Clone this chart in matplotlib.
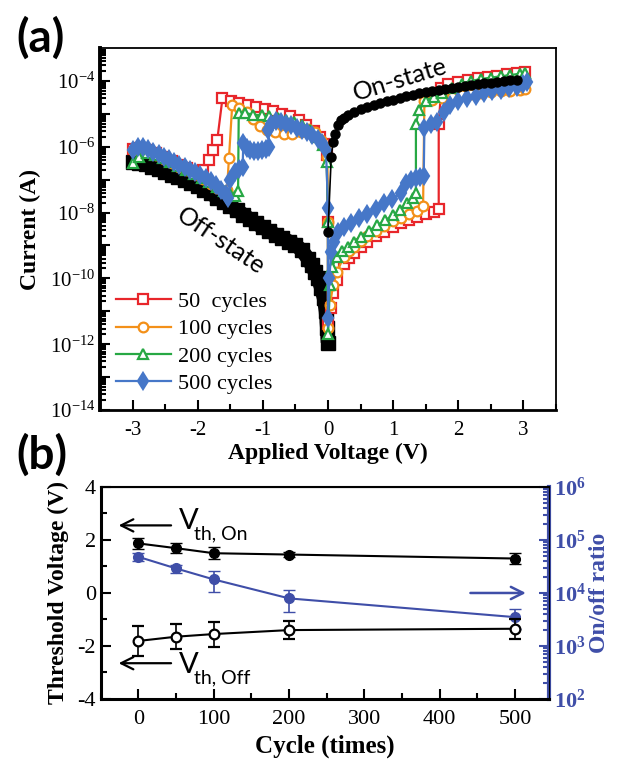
import numpy as np
import matplotlib.pyplot as plt
from matplotlib.ticker import FixedLocator, FuncFormatter, LogLocator, MultipleLocator, NullFormatter

plt.rcParams['font.family'] = 'Liberation Serif'
plt.rcParams['mathtext.fontset'] = 'custom'
plt.rcParams['mathtext.rm'] = 'Liberation Serif'
plt.rcParams['mathtext.it'] = 'Liberation Serif:italic'
plt.rcParams['mathtext.bf'] = 'Liberation Serif:bold'
plt.rcParams['axes.unicode_minus'] = False

# ------------------------------------------------------------
# (a) I-V sweeps, (V, log10 I)
# ------------------------------------------------------------
off_state = [(-3.0, -6.45), (-2.9, -6.48), (-2.8, -6.53), (-2.7, -6.6), (-2.6, -6.68),
             (-2.5, -6.76), (-2.4, -6.85), (-2.3, -6.93), (-2.2, -7.02), (-2.1, -7.1),
             (-2.0, -7.2), (-1.9, -7.3), (-1.8, -7.42), (-1.7, -7.55), (-1.6, -7.68),
             (-1.5, -7.8), (-1.4, -7.93), (-1.3, -8.06), (-1.2, -8.2), (-1.1, -8.33),
             (-1.0, -8.45), (-0.9, -8.57), (-0.8, -8.68), (-0.7, -8.78), (-0.6, -8.88),
             (-0.5, -8.98), (-0.4, -9.15), (-0.3, -9.42), (-0.25, -9.6), (-0.2, -9.8),
             (-0.15, -10.0), (-0.1, -10.3), (-0.06, -10.6), (-0.03, -11.0), (-0.01, -11.5),
             (0.0, -11.95)]

on_state = [(0.0, -8.6), (0.05, -6.3), (0.08, -5.85), (0.11, -5.6), (0.15, -5.35),
            (0.2, -5.2), (0.25, -5.12), (0.3, -5.05), (0.4, -4.95), (0.5, -4.85),
            (0.6, -4.78), (0.7, -4.72), (0.8, -4.67), (0.9, -4.62), (1.0, -4.57),
            (1.1, -4.52), (1.2, -4.47), (1.3, -4.42), (1.4, -4.38), (1.5, -4.34),
            (1.6, -4.3), (1.7, -4.27), (1.8, -4.24), (1.9, -4.21), (2.0, -4.18),
            (2.1, -4.15), (2.2, -4.12), (2.3, -4.1), (2.4, -4.07), (2.5, -4.05),
            (2.6, -4.03), (2.7, -4.0), (2.8, -3.98), (2.9, -3.96)]

cycles_50 = [(-3.0, -6.06), (-2.88, -6.04), (-2.76, -6.1), (-2.64, -6.2), (-2.52, -6.3),
             (-2.4, -6.42), (-2.28, -6.54), (-2.16, -6.66), (-2.04, -6.78), (-1.96, -6.86),
             (-1.92, -6.71), (-1.83, -6.4), (-1.76, -6.1), (-1.7, -5.8), (-1.62, -4.53),
             (-1.49, -4.62), (-1.36, -4.68), (-1.23, -4.74), (-1.1, -4.8), (-0.97, -4.86),
             (-0.84, -4.92), (-0.71, -4.99), (-0.58, -5.07), (-0.45, -5.18), (-0.33, -5.35),
             (-0.22, -5.52), (-0.13, -5.7), (-0.06, -5.92), (-0.02, -6.25), (0.0, -8.3),
             (0.0, -11.4), (0.04, -10.9), (0.08, -10.45), (0.14, -10.05), (0.24, -9.55),
             (0.32, -9.38), (0.4, -9.24), (0.5, -9.05), (0.6, -8.89), (0.73, -8.72),
             (0.86, -8.58), (1.0, -8.45), (1.12, -8.33), (1.25, -8.22), (1.37, -8.13),
             (1.5, -8.05), (1.62, -7.98), (1.7, -7.9), (1.7, -5.3), (1.74, -4.2),
             (1.85, -4.1), (2.0, -4.03), (2.15, -3.97), (2.3, -3.92), (2.45, -3.88),
             (2.6, -3.84), (2.75, -3.8), (2.9, -3.76), (3.02, -3.72)]

cycles_100 = [(-3.0, -6.1), (-2.88, -6.05), (-2.76, -6.12), (-2.64, -6.24), (-2.52, -6.36),
              (-2.4, -6.48), (-2.28, -6.6), (-2.16, -6.72), (-2.04, -6.84), (-1.92, -6.98),
              (-1.8, -7.12), (-1.7, -7.25), (-1.6, -7.4), (-1.55, -7.3), (-1.52, -6.34),
              (-1.47, -4.73), (-1.36, -4.83), (-1.25, -4.95), (-1.15, -5.15), (-1.05, -5.38),
              (-0.93, -5.5), (-0.81, -5.55), (-0.68, -5.6), (-0.55, -5.6), (-0.42, -5.55),
              (-0.3, -5.45), (-0.2, -5.55), (-0.11, -5.78), (-0.05, -6.0), (-0.01, -6.3),
              (0.0, -8.3), (0.0, -11.5), (0.03, -10.8), (0.08, -10.2), (0.14, -9.8),
              (0.24, -9.35), (0.32, -9.18), (0.4, -9.05), (0.5, -8.87), (0.6, -8.7),
              (0.73, -8.55), (0.86, -8.4), (1.0, -8.27), (1.12, -8.15), (1.25, -8.05),
              (1.37, -7.95), (1.46, -7.8), (1.48, -4.62), (1.6, -4.58), (1.75, -4.53),
              (1.9, -4.48), (2.05, -4.44), (2.2, -4.4), (2.35, -4.37), (2.5, -4.34),
              (2.65, -4.32), (2.8, -4.3), (2.95, -4.28), (3.03, -4.25)]

cycles_200 = [(-3.0, -6.5), (-2.9, -6.3), (-2.78, -6.2), (-2.66, -6.25), (-2.54, -6.35),
              (-2.42, -6.47), (-2.3, -6.58), (-2.18, -6.7), (-2.06, -6.82), (-1.94, -6.95),
              (-1.82, -7.08), (-1.7, -7.22), (-1.6, -7.35), (-1.5, -7.45), (-1.42, -7.5),
              (-1.38, -7.35), (-1.37, -4.98), (-1.27, -4.98), (-1.15, -5.02), (-1.02, -5.05),
              (-0.9, -5.08), (-0.77, -5.12), (-0.65, -5.18), (-0.52, -5.25), (-0.4, -5.35),
              (-0.28, -5.5), (-0.17, -5.7), (-0.08, -5.95), (-0.02, -6.45), (0.0, -8.3),
              (0.0, -11.7), (0.03, -10.2), (0.06, -9.65), (0.14, -9.34), (0.22, -9.18),
              (0.3, -9.04), (0.4, -8.88), (0.5, -8.73), (0.63, -8.55), (0.76, -8.38),
              (0.88, -8.23), (1.0, -8.08), (1.1, -7.93), (1.22, -7.72), (1.3, -7.55),
              (1.35, -7.42), (1.35, -5.3), (1.4, -4.88), (1.5, -4.6), (1.62, -4.48),
              (1.75, -4.38), (1.9, -4.22), (2.05, -4.08), (2.2, -4.0), (2.35, -3.94),
              (2.5, -3.9), (2.65, -3.86), (2.8, -3.82), (2.95, -3.78), (3.03, -3.76)]

cycles_500 = [(-3.0, -6.1), (-2.92, -6.02), (-2.84, -6.02), (-2.76, -6.08), (-2.68, -6.15),
              (-2.6, -6.23), (-2.52, -6.3), (-2.44, -6.38), (-2.36, -6.46), (-2.28, -6.54),
              (-2.2, -6.62), (-2.12, -6.7), (-2.04, -6.78), (-1.96, -6.86), (-1.88, -6.95),
              (-1.8, -7.05), (-1.72, -7.17), (-1.64, -7.3), (-1.57, -7.45), (-1.53, -7.55),
              (-1.5, -7.0), (-1.43, -6.78), (-1.36, -6.68), (-1.31, -6.6), (-1.3, -5.9),
              (-1.25, -6.05), (-1.19, -6.1), (-1.13, -6.12), (-1.07, -6.12), (-1.01, -6.1),
              (-0.95, -6.06), (-0.9, -6.0), (-0.92, -5.5), (-0.88, -5.3), (-0.8, -5.22),
              (-0.72, -5.25), (-0.64, -5.3), (-0.56, -5.35), (-0.48, -5.42), (-0.4, -5.48),
              (-0.32, -5.55), (-0.24, -5.65), (-0.16, -5.76), (-0.09, -5.9), (-0.03, -6.1),
              (0.0, -7.86), (0.0, -11.2), (0.02, -10.0), (0.05, -9.2), (0.09, -8.89),
              (0.16, -8.6), (0.25, -8.45), (0.35, -8.33), (0.47, -8.18), (0.6, -8.03),
              (0.73, -7.88), (0.86, -7.72), (0.99, -7.58), (1.12, -7.42), (1.2, -7.1),
              (1.27, -7.0), (1.35, -6.95), (1.42, -6.92), (1.47, -6.9), (1.48, -5.43),
              (1.58, -5.3), (1.68, -5.24), (1.78, -4.95), (1.88, -4.73), (2.0, -4.62),
              (2.14, -4.53), (2.27, -4.45), (2.4, -4.37), (2.52, -4.32), (2.65, -4.28),
              (2.78, -4.22), (2.9, -4.17), (3.0, -4.1), (3.05, -4.03)]

sweep_labels = ['50  cycles', '100 cycles', '200 cycles', '500 cycles']

# ------------------------------------------------------------
# (b) threshold voltages and on/off ratio vs cycle
# ------------------------------------------------------------
cycles = [0, 50, 100, 200, 500]
vth_on = [1.87, 1.69, 1.50, 1.45, 1.30]
vth_on_err = [0.22, 0.20, 0.22, 0.10, 0.20]
vth_off = [-1.81, -1.65, -1.55, -1.40, -1.35]
vth_off_err = [0.57, 0.48, 0.47, 0.33, 0.38]
on_off_ratio = [4.8e4, 2.9e4, 1.8e4, 7.9e3, 3.5e3]
on_off_ratio_err = [8e3, 5e3, 7.5e3, 3.5e3, 1.4e3]

BLUE = '#3f4ea8'
SANS = 'Lato'


def xy(points):
    arr = np.array(points)
    return arr[:, 0], 10 ** arr[:, 1]


fig = plt.figure(figsize=(6.3, 7.71), dpi=100)

# ---------------------------- (a) ----------------------------
ax1 = fig.add_axes([0.1587, 0.4682, 0.7238, 0.4695])
ax1.set_yscale('log')

# off-state: a dense run of squares, drawn as a thick band
v, i = xy(off_state)
ax1.plot(v, i, '-', color='black', lw=10.5, zorder=2, solid_capstyle='butt')
ax1.plot(v, i, 's', color='black', ms=10, zorder=2)

styles = [
    (cycles_50, '#e8262b', 's', 'white', 6.5),
    (cycles_100, '#f39019', 'o', 'white', 7),
    (cycles_200, '#27a844', '^', 'white', 7.5),
    (cycles_500, '#4677c8', 'd', '#4677c8', 8),
]
for k, (pts, col, mk, face, ms) in enumerate(styles):
    v, i = xy(pts)
    ax1.plot(v, i, '-', color=col, marker=mk, mfc=face, mec=col, ms=ms, mew=1.6,
             lw=1.6, zorder=3 + k, label=sweep_labels[k])

v, i = xy(on_state)
ax1.plot(v, i, '-', color='black', marker='o', ms=6.5, lw=1.2, zorder=8)

ax1.set_xlim(-3.5, 3.5)
ax1.set_ylim(1e-14, 1e-3)
ax1.xaxis.set_major_locator(MultipleLocator(1))
ax1.xaxis.set_minor_locator(MultipleLocator(0.5))
ax1.yaxis.set_major_locator(FixedLocator([10.0 ** e for e in range(-14, -3)]))
ax1.yaxis.set_major_formatter(FuncFormatter(
    lambda y, pos: r'$10^{%d}$' % round(np.log10(y)) if round(np.log10(y)) % 2 == 0 else ''))
ax1.yaxis.set_minor_locator(LogLocator(base=10, subs=np.arange(2, 10), numticks=30))
ax1.yaxis.set_minor_formatter(NullFormatter())
ax1.tick_params(which='both', direction='in', top=False, right=False, labelsize=15, width=1.5)
ax1.tick_params(which='major', length=7)
ax1.tick_params(which='minor', length=4)
ax1.tick_params(axis='x', pad=8)
for side, lw in (('left', 2.8), ('bottom', 2.0), ('top', 1.3), ('right', 1.3)):
    ax1.spines[side].set_linewidth(lw)

ax1.set_xlabel('Applied Voltage (V)', fontsize=17, fontweight='bold', labelpad=2)
ax1.set_ylabel('Current (A)', fontsize=17, fontweight='bold', labelpad=6)

ax1.legend(loc='upper left', bbox_to_anchor=(0.0, 0.37), frameon=False, fontsize=16,
           handlelength=2.5, handletextpad=0.3, labelspacing=0.3, borderaxespad=0.3)

ax1.text(1.1, 1.1e-4, 'On-state', family=SANS, fontsize=18, rotation=17,
         ha='center', va='center')
ax1.text(-1.64, 1.4e-9, 'Off-state', family=SANS, fontsize=18, rotation=-34,
         ha='center', va='center')

fig.text(0.065, 0.951, '(a)', family=SANS, fontsize=33, fontweight='bold', ha='center', va='center')
fig.text(0.067, 0.41, '(b)', family=SANS, fontsize=33, fontweight='bold', ha='center', va='center')

# ---------------------------- (b) ----------------------------
ax2 = fig.add_axes([0.16, 0.0934, 0.7114, 0.275])
ax2.errorbar(cycles, vth_on, yerr=vth_on_err, fmt='-o', color='black', ms=7, lw=1.5,
             capsize=4, elinewidth=1.2, zorder=4)
ax2.errorbar(cycles, vth_off, yerr=vth_off_err, fmt='-o', color='black', mfc='white',
             mew=1.6, ms=7, lw=1.5, capsize=4, elinewidth=1.2, zorder=4)
ax2.set_xlim(-50, 545)
ax2.set_ylim(-4, 4)
ax2.xaxis.set_major_locator(MultipleLocator(100))
ax2.xaxis.set_minor_locator(MultipleLocator(50))
ax2.yaxis.set_major_locator(MultipleLocator(2))
ax2.yaxis.set_minor_locator(MultipleLocator(1))
ax2.tick_params(which='both', direction='in', top=False, right=False, labelsize=16, width=1.5)
ax2.tick_params(which='major', length=7)
ax2.tick_params(which='minor', length=4)
ax2.tick_params(axis='x', pad=8)
for side, lw in (('left', 2.2), ('bottom', 2.2), ('top', 1.5)):
    ax2.spines[side].set_linewidth(lw)
ax2.set_xlabel('Cycle (times)', fontsize=18, fontweight='bold', labelpad=4)
ax2.set_ylabel('Threshold Voltage (V)', fontsize=17, fontweight='bold', labelpad=6)

ax2.annotate('', xy=(-30, 2.55), xytext=(47, 2.55),
             arrowprops=dict(arrowstyle='->', lw=1.6, color='black', mutation_scale=22))
ax2.annotate('', xy=(-30, -2.65), xytext=(47, -2.65),
             arrowprops=dict(arrowstyle='->', lw=1.6, color='black', mutation_scale=22))
ax2.annotate('', xy=(518, 0.0), xytext=(437, 0.0),
             arrowprops=dict(arrowstyle='->', lw=1.8, color=BLUE, mutation_scale=22))
for yv, sub in ((2.7, 'th, On'), (-2.72, 'th, Off')):
    ax2.text(54, yv, 'V', family=SANS, fontsize=21, ha='left', va='center')
    ax2.annotate(sub, xy=(54, yv), xytext=(11, -9), textcoords='offset points',
                 family=SANS, fontsize=14, ha='left', va='center')

ax3 = ax2.twinx()
ax3.set_yscale('log')
ax3.errorbar(cycles, on_off_ratio, yerr=on_off_ratio_err, fmt='-o', color=BLUE, ms=7,
             lw=1.5, capsize=4, elinewidth=1.2, zorder=3)
ax3.set_ylim(1e2, 1e6)
ax3.yaxis.set_major_locator(FixedLocator([1e2, 1e3, 1e4, 1e5, 1e6]))
ax3.yaxis.set_major_formatter(FuncFormatter(
    lambda y, pos: r'$\mathbf{10^{%d}}$' % round(np.log10(y))))
ax3.yaxis.set_minor_locator(LogLocator(base=10, subs=np.arange(2, 10), numticks=20))
ax3.yaxis.set_minor_formatter(NullFormatter())
ax3.tick_params(which='both', direction='in', colors=BLUE, labelsize=16, width=1.5)
ax3.tick_params(which='major', length=7)
ax3.tick_params(which='minor', length=4)
ax3.spines['right'].set_color(BLUE)
ax3.spines['right'].set_linewidth(3)
ax3.set_ylabel('On/off ratio', fontsize=17, fontweight='bold', color=BLUE, labelpad=2)
ax2.set_zorder(ax3.get_zorder() + 1)
ax2.patch.set_visible(False)

fig.savefig('out.png', dpi=100)
